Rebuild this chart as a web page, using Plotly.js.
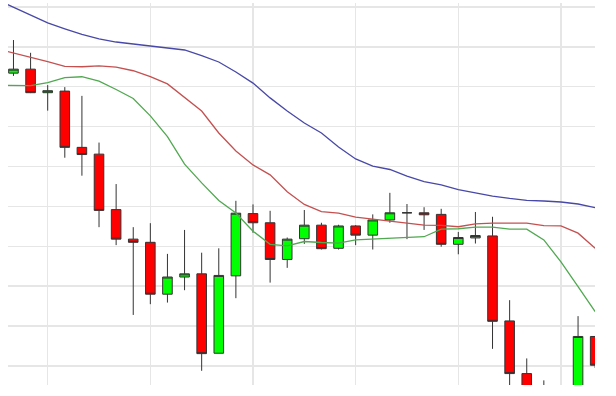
<!DOCTYPE html>
<html>
<head>
<meta charset="utf-8">
<script src="https://cdn.plot.ly/plotly-3.0.1.min.js"></script>
<style>
  html, body { margin: 0; padding: 0; background: #ffffff; }
  #chart { width: 616px; height: 396px; }
</style>
</head>
<body>
<div id="chart"></div>
<script>
// Candle positions (session index)
var sessions = [0,1,2,3,4,5,6,7,8,9,10,11,12,13,14,15,16,17,18,19,20,21,22,23,24,25,26,27,28,29,30,31,32,33,34];
var openPrices  = [83.4,84.4,78.5,78.9,64.8,63.1,49.2,41.8,41.0,28.0,32.3,33.1,13.2,32.6,48.2,45.9,36.7,41.9,45.3,39.5,45.1,42.8,46.6,48.4,48.4,48.0,40.5,42.1,42.6,21.3,8.1,1.5,0.0,2.0,17.4];
var highPrices  = [91.7,88.5,80.4,79.9,77.7,66.0,55.6,44.8,45.8,38.1,44.1,38.4,39.5,51.4,50.5,48.9,42.2,49.1,45.9,45.4,45.3,48.0,53.4,50.6,49.8,49.4,43.6,48.6,47.4,26.5,11.9,6.4,4.8,22.5,17.4];
var lowPrices   = [82.7,78.4,74.0,62.2,57.7,44.8,40.3,22.8,25.5,25.9,29.0,8.8,13.2,27.0,43.4,30.9,34.6,40.6,39.2,39.2,40.3,39.2,45.9,41.8,44.1,39.9,38.0,40.7,14.3,2.7,-1.5,-3.0,-2.0,0.5,9.5];
var closePrices = [84.4,78.5,79.0,64.8,63.0,49.0,41.8,41.0,28.0,32.3,33.1,13.1,32.7,48.3,45.9,36.7,41.8,45.3,39.4,45.1,42.8,46.6,48.4,48.4,47.9,40.5,42.2,42.7,21.2,8.1,1.0,-1.0,3.0,17.4,10.2];

// Indicator lines (start one session before the first visible candle)
var lineSessions = [-1,0,1,2,3,4,5,6,7,8,9,10,11,12,13,14,15,16,17,18,19,20,21,22,23,24,25,26,27,28,29,30,31,32,33,34];
var blueLine  = [101.9,100.0,98.0,96.0,94.5,93.1,92.0,91.2,90.7,90.2,89.8,89.2,87.8,86.2,83.7,80.9,77.2,73.9,70.9,68.4,64.9,61.9,60.1,59.25,57.6,56.2,55.4,54.2,53.4,52.6,52.0,51.5,51.35,51.1,50.6,49.7];
var redLine   = [89.5,88.45,87.4,86.3,85.1,85.0,85.2,84.9,84.0,82.5,80.7,77.4,73.9,68.4,63.9,60.4,57.9,53.7,50.5,48.7,48.3,47.3,46.8,46.2,45.7,45.3,45.25,44.9,45.6,45.8,45.8,45.8,45.2,45.1,43.3,39.5];
var greenLine = [80.4,80.3,80.25,81.05,82.3,82.5,81.4,79.3,77.05,72.7,67.5,60.6,55.9,51.5,48.35,43.8,40.5,40.1,41.2,40.95,40.8,41.6,41.8,42.1,42.2,42.4,44.3,44.4,44.8,44.8,44.3,44.3,41.6,36.1,29.9,23.6];

var traces = [
  {type: 'scatter', mode: 'lines', x: lineSessions, y: blueLine,
   line: {color: 'rgb(72,72,168)', width: 1.3}, hoverinfo: 'skip', showlegend: false},
  {type: 'scatter', mode: 'lines', x: lineSessions, y: redLine,
   line: {color: 'rgb(196,80,80)', width: 1.3}, hoverinfo: 'skip', showlegend: false},
  {type: 'scatter', mode: 'lines', x: lineSessions, y: greenLine,
   line: {color: 'rgb(80,168,80)', width: 1.3}, hoverinfo: 'skip', showlegend: false},
  {type: 'candlestick', x: sessions, open: openPrices, high: highPrices, low: lowPrices, close: closePrices,
   increasing: {fillcolor: '#00ff00', line: {color: '#333333', width: 1}},
   decreasing: {fillcolor: '#ff0000', line: {color: '#333333', width: 1}},
   whiskerwidth: 0, showlegend: false}
];

var layout = {
  width: 616, height: 396,
  margin: {l: 8, r: 21, t: 3, b: 11, pad: 0},
  paper_bgcolor: '#ffffff', plot_bgcolor: '#ffffff',
  showlegend: false,
  boxgap: 0.2, boxgroupgap: 0.3,
  xaxis: {
    range: [-0.32, 33.99], tick0: 2, dtick: 6,
    showticklabels: false, ticks: '', zeroline: false, showline: false,
    gridcolor: '#e6e6e6', gridwidth: 1.5,
    rangeslider: {visible: false}, fixedrange: true
  },
  yaxis: {
    range: [5.24, 100.98], tick0: 0, dtick: 10,
    showticklabels: false, ticks: '', zeroline: false, showline: false,
    gridcolor: '#e6e6e6', gridwidth: 1.5, fixedrange: true
  }
};

Plotly.newPlot('chart', traces, layout, {displayModeBar: false, staticPlot: true});
</script>
</body>
</html>
